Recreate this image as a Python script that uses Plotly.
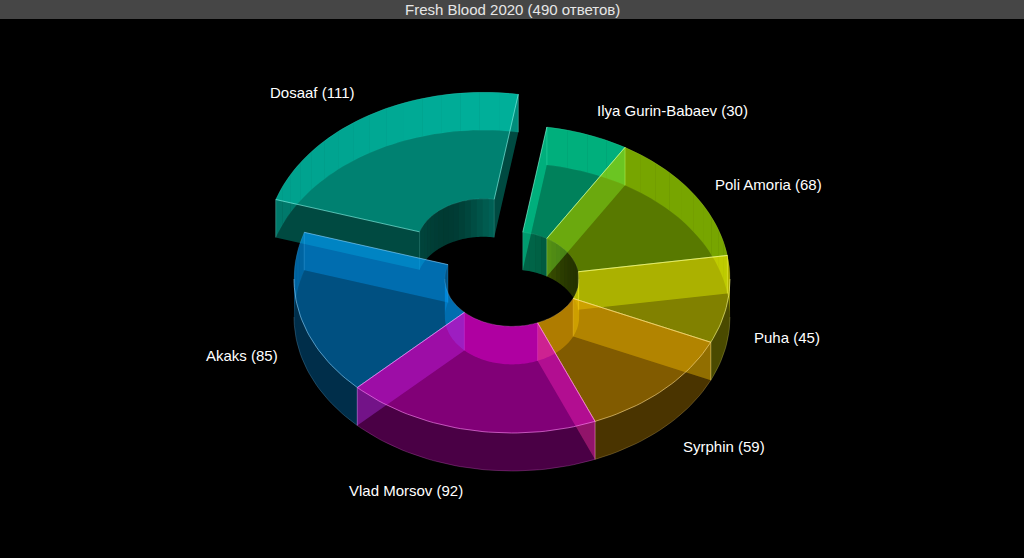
import math
import plotly.graph_objects as go

# slices, clockwise, starting at the first one after the pulled slice
names = ['Ilya Gurin-Babaev', 'Poli Amoria', 'Puha', 'Syrphin', 'Vlad Morsov', 'Akaks', 'Dosaaf']
values = [30, 68, 45, 59, 92, 85, 111]
colors = [(0, 255, 180), (175, 240, 0), (255, 255, 0), (255, 180, 0), (255, 0, 235), (0, 160, 255), (0, 255, 224)]
pulled = ['Dosaaf']
draw_order = ['Dosaaf', 'Ilya Gurin-Babaev', 'Akaks', 'Poli Amoria', 'Puha', 'Syrphin', 'Vlad Morsov']
title = 'Fresh Blood 2020 (490 ответов)'

# pie geometry
CX, CY = 512, 279
RX, RY = 218, 154
HOLE = 0.308
DEPTH = 38
PULL = 0.25
START = 9.2
LABEL_R = 1.13
STEP = 5

# small label corrections, in pixels
label_nudge = {'Dosaaf': (2.5, -5), 'Ilya Gurin-Babaev': (-2, -5), 'Poli Amoria': (-4, 2), 'Puha': (-4, -3),
               'Syrphin': (-2, 4), 'Vlad Morsov': (2, 3), 'Akaks': (7, -2)}


def point(t, r, cx, cy, dy=0):
    a = math.radians(t)
    return cx + RX * r * math.sin(a), cy - RY * r * math.cos(a) + dy


def arc(t0, t1, r, cx, cy, dy=0):
    n = max(2, int(abs(t1 - t0) / 1.5))
    return [point(t0 + (t1 - t0) * i / n, r, cx, cy, dy) for i in range(n + 1)]


def rgba(c, a):
    return 'rgba(%d,%d,%d,%.3f)' % (c[0], c[1], c[2], a)


def light(c, k):
    return tuple(int(v + (255 - v) * k) for v in c)


def face(fig, pts, color, alpha):
    fig.add_trace(go.Scatter(x=[p[0] for p in pts] + [pts[0][0]],
                             y=[p[1] for p in pts] + [pts[0][1]],
                             mode='none',
                             fill='toself',
                             fillcolor=rgba(color, alpha),
                             hoverinfo='skip',
                             showlegend=False))


def edge(fig, pts, color, alpha):
    fig.add_trace(go.Scatter(x=[p[0] for p in pts],
                             y=[p[1] for p in pts],
                             mode='lines',
                             line=dict(color=rgba(light(color, 0.55), alpha), width=1),
                             hoverinfo='skip',
                             showlegend=False))


def split(t0, t1):
    # cut the arc where the wall turns from facing away to facing the viewer
    cuts = [t for t in (90, 270, 450) if t0 < t < t1]
    marks = [t0] + cuts + [t1]
    return list(zip(marks[:-1], marks[1:]))


def pieces(s0, s1):
    n = max(1, round((s1 - s0) / STEP))
    return [(s0 + (s1 - s0) * k / n, s0 + (s1 - s0) * (k + 1) / n) for k in range(n)]


def outer_shade(t):
    # lit from the right, so the left of the back wall is duller
    return 0.46 + 0.1 * min(0, math.sin(math.radians(t)))


def inner_shade(t):
    a = max(0, math.cos(math.radians(t - 15))) ** 8
    b = max(0, math.cos(math.radians(t + 80))) ** 4
    return 0.07 + 0.22 * a + 0.08 * b


fig = go.Figure()

total = sum(values)
angles = {}
a = START
for name, value in zip(names, values):
    angles[name] = (a, a + value / total * 360)
    a += value / total * 360

annotations = []
for name in draw_order:
    i = names.index(name)
    c = colors[i]
    t0, t1 = angles[name]
    mid = (t0 + t1) / 2
    cx, cy = CX, CY
    if name in pulled:
        cx, cy = point(mid, PULL, CX, CY)

    # bottom
    outer = arc(t0, t1, 1, cx, cy, DEPTH)
    inner = arc(t1, t0, HOLE, cx, cy, DEPTH)
    face(fig, outer + inner, c, 0.15)

    # walls
    for s0, s1 in split(t0, t1):
        m = math.cos(math.radians((s0 + s1) / 2))
        if m < 0:
            face(fig, arc(s0, s1, 1, cx, cy) + arc(s1, s0, 1, cx, cy, DEPTH), c, 0.17)
            face(fig, arc(s0, s1, HOLE, cx, cy) + arc(s1, s0, HOLE, cx, cy, DEPTH), c, 0.46)
        else:
            for p0, p1 in pieces(s0, s1):
                face(fig, arc(p0, p1, 1, cx, cy) + arc(p1, p0, 1, cx, cy, DEPTH), c, outer_shade((p0 + p1) / 2))
                face(fig, arc(p0, p1, HOLE, cx, cy) + arc(p1, p0, HOLE, cx, cy, DEPTH), c, inner_shade((p0 + p1) / 2))
        edge(fig, arc(s0, s1, 1, cx, cy, DEPTH), c, 0.22 if m < 0 else 0.05)

    for t, sign, other in ((t0, -1, i - 1), (t1, 1, (i + 1) % len(names))):
        p0 = point(t, HOLE, cx, cy)
        p1 = point(t, 1, cx, cy)
        p2 = point(t, 1, cx, cy, DEPTH)
        p3 = point(t, HOLE, cx, cy, DEPTH)
        facing = sign * math.sin(math.radians(t)) > 0
        free = name in pulled or names[other] in pulled
        if facing:
            alpha = 0.17 if free else 0.08
        else:
            alpha = 0.46 if free else 0.34
        face(fig, [p0, p1, p2, p3], c, alpha)
        edge(fig, [p1, p2], c, 0.3)
        edge(fig, [p0, p3], c, 0.18)

    # top
    outer = arc(t0, t1, 1, cx, cy)
    inner = arc(t1, t0, HOLE, cx, cy)
    face(fig, outer + inner, c, 0.42)
    for s0, s1 in split(t0, t1):
        m = math.cos(math.radians((s0 + s1) / 2))
        edge(fig, arc(s0, s1, 1, cx, cy), c, 0.6 if m < 0 else 0.12)
        edge(fig, arc(s0, s1, HOLE, cx, cy), c, 0.25 if m < 0 else 0.1)
    for t in (t0, t1):
        edge(fig, [point(t, HOLE, cx, cy), point(t, 1, cx, cy)], c, 0.6)

    # label
    lx, ly = point(mid, LABEL_R, cx, cy)
    if math.cos(math.radians(mid)) < 0:
        ly += DEPTH
    annotations.append(dict(x=lx + label_nudge[name][0], y=ly + label_nudge[name][1],
                            text='%s (%d)' % (name, values[i]),
                            showarrow=False,
                            xanchor='left' if math.sin(math.radians(mid)) > 0 else 'right',
                            yanchor='middle',
                            font=dict(color='#ffffff', size=15)))

annotations.append(dict(x=0.5, y=1, xref='paper', yref='paper',
                        text=title,
                        showarrow=False,
                        xanchor='center',
                        yanchor='top',
                        yshift=1,
                        font=dict(color='#e6e6e6', size=15)))

fig.update_layout(width=1024,
                  height=558,
                  margin=dict(l=0, r=0, t=0, b=0),
                  paper_bgcolor='#000000',
                  plot_bgcolor='#000000',
                  font=dict(family='Liberation Sans, Arial, sans-serif'),
                  xaxis=dict(range=[0, 1024], visible=False),
                  yaxis=dict(range=[558, 0], visible=False),
                  annotations=annotations,
                  shapes=[dict(type='rect', xref='paper', yref='paper',
                               x0=0, x1=1, y0=1, y1=1 - 19 / 558,
                               fillcolor='#464646', line_width=0, layer='below')])

fig.write_html("out.html",
               config={'displayModeBar': False},
               post_script="document.body.style.margin='0';document.body.style.background='#000';document.body.style.overflow='hidden';")
